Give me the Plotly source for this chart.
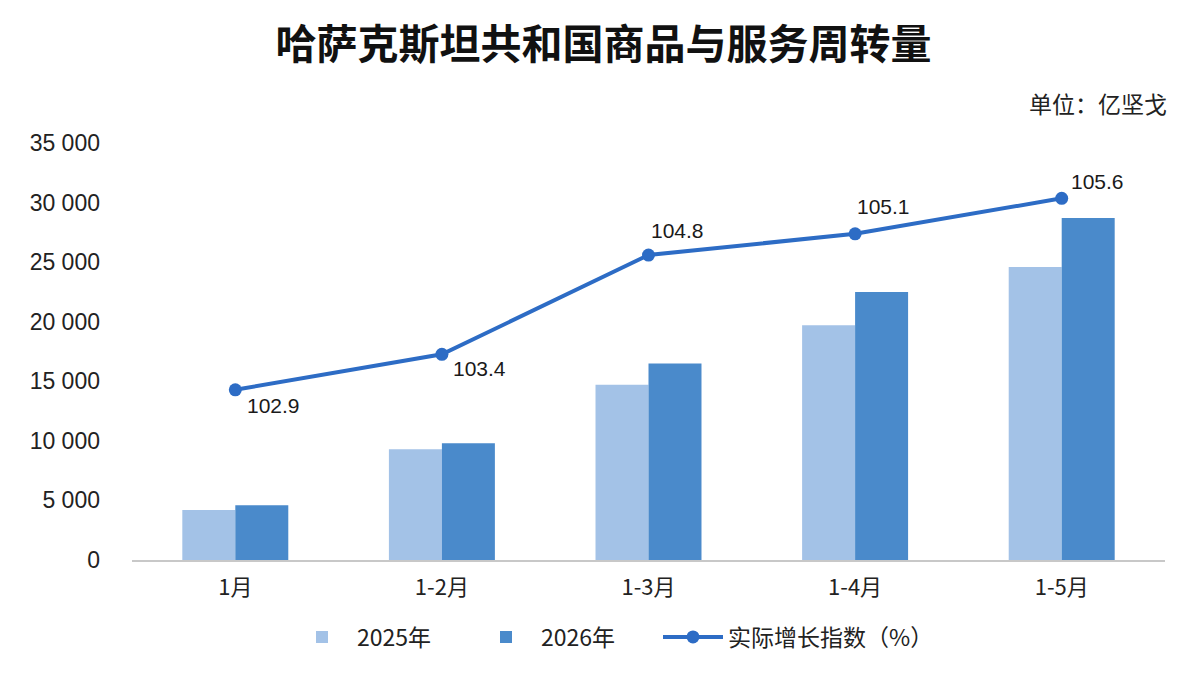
import plotly.graph_objects as go

# ---- data ----
categories = ["1月", "1-2月", "1-3月", "1-4月", "1-5月"]
values_2025 = [4200, 9300, 14700, 19700, 24600]
values_2026 = [4600, 9800, 16500, 22500, 28700]
growth_index = [102.9, 103.4, 104.8, 105.1, 105.6]
y_tick_values = [0, 5000, 10000, 15000, 20000, 25000, 30000, 35000]

# ---- styles ----
C_2025 = "#A3C2E7"
C_2026 = "#4A8ACB"
C_LINE = "#2D6CC5"
NUM_FONT = "Liberation Sans, Arial, sans-serif"
CJK_FONT = "Noto Sans CJK SC, sans-serif"
label_offsets = [(10, -16), (9, -14), (0, 25), (0, 27), (7, 17)]
legend_text_px = [356, 540, 727]   # left edge of each legend entry's text

fig = go.Figure()
fig.add_trace(go.Bar(x=categories, y=values_2025, name="2025年", legend="legend",
                     marker=dict(color=C_2025, line=dict(width=0))))
fig.add_trace(go.Bar(x=categories, y=values_2026, name="2026年", legend="legend2",
                     marker=dict(color=C_2026, line=dict(width=0))))
fig.add_trace(go.Scatter(x=categories, y=growth_index, name="实际增长指数（%）",
                         legend="legend3", yaxis="y2", mode="lines+markers",
                         line=dict(color=C_LINE, width=4),
                         marker=dict(color=C_LINE, size=13)))

for cat, v, (dx, dy) in zip(categories, growth_index, label_offsets):
    fig.add_annotation(x=cat, y=v, xref="x", yref="y2", text=f"{v:.1f}",
                       showarrow=False, xanchor="left", yanchor="middle",
                       xshift=dx, yshift=dy,
                       font=dict(family=NUM_FONT, size=21, color="#1a1a1a"))

fig.add_annotation(x=1.004, y=(560 - 103) / 417, xref="paper", yref="paper",
                   text="单位：亿坚戈", showarrow=False, xanchor="right", yanchor="middle",
                   font=dict(family=CJK_FONT, size=23, color="#222222"))

def legend_style(text_px):
    return dict(orientation="h", x=(text_px - 69 - 132) / 1033, xanchor="left",
                y=(560 - 637) / 417, yanchor="middle", itemwidth=60,
                bgcolor="rgba(0,0,0,0)",
                font=dict(family=CJK_FONT, size=23, color="#222222"))

fig.update_layout(
    width=1200, height=674,
    margin=dict(l=132, r=35, t=143, b=114),
    paper_bgcolor="white", plot_bgcolor="white",
    separators=". ",
    barmode="group", bargap=0.487, bargroupgap=0,
    title=dict(text="<b>哈萨克斯坦共和国商品与服务周转量</b>",
               x=0.503, xanchor="center", y=1 - 45 / 674, yanchor="middle",
               font=dict(family=CJK_FONT, size=41, color="#111111")),
    xaxis=dict(showgrid=False, showline=True, linecolor="#C8C8C8", linewidth=1.5,
               ticks="", ticklabelstandoff=7,
               tickfont=dict(family=CJK_FONT, size=22, color="#222222")),
    yaxis=dict(range=[0, 35000], tickvals=y_tick_values, tickformat=",d",
               showgrid=False, zeroline=False, showline=False, ticks="",
               ticklabelstandoff=31,
               tickfont=dict(family=NUM_FONT, size=23, color="#222222")),
    yaxis2=dict(overlaying="y", range=[100.5, 106.38], visible=False),
    legend=legend_style(legend_text_px[0]),
    legend2=legend_style(legend_text_px[1]),
    legend3=legend_style(legend_text_px[2]),
    showlegend=True,
)

fig.write_html("out.html")
